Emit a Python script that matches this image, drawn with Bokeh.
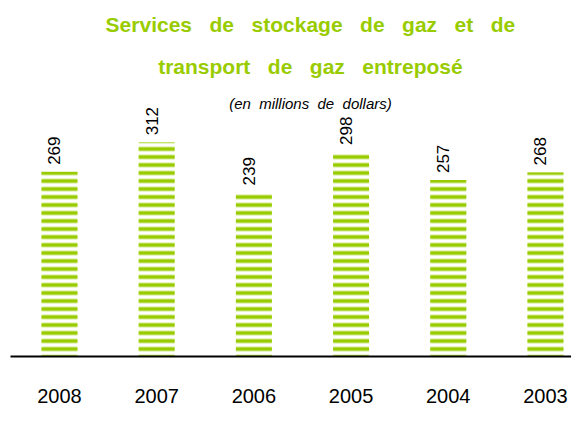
import math
from bokeh.plotting import figure
from bokeh.models import ColumnDataSource, Range1d, LinearAxis, FixedTicker, Label
from bokeh.core.properties import value
from bokeh.embed import file_html
from bokeh.resources import INLINE

# ---- data ----
years = ["2008", "2007", "2006", "2005", "2004", "2003"]
amounts = [269, 312, 239, 298, 257, 268]
title_line1 = "Services de stockage de gaz et de"
title_line2 = "transport de gaz entreposé"
subtitle = "(en millions de dollars)"

GREEN = "#99cc00"
LIGHT = "#cfe88a"
FONT = "Liberation Sans"

idx = list(range(len(years)))
src = ColumnDataSource(dict(x=idx, top=amounts, label=[str(v) for v in amounts]))

p = figure(width=571, height=405, output_backend="svg", toolbar_location=None,
           x_axis_type=None, y_axis_type=None,
           x_range=Range1d(-0.504, 5.268), y_range=Range1d(0, 518.6),
           min_border_left=10, min_border_right=0, min_border_top=0, min_border_bottom=49)
p.outline_line_color = None
p.xgrid.visible = False
p.ygrid.visible = False
p.background_fill_color = "white"
p.border_fill_color = "white"

# striped bars: light under-stripe then dark stripe
p.vbar(x="x", top="top", bottom=0, width=0.37, source=src, fill_color=None, line_color=None,
       hatch_pattern="horizontal_line", hatch_color=LIGHT, hatch_weight=5, hatch_scale=8)
p.vbar(x="x", top="top", bottom=0, width=0.37, source=src, fill_color=None, line_color=None,
       hatch_pattern="horizontal_line", hatch_color=GREEN, hatch_weight=3, hatch_scale=8)

p.text(x="x", y="top", text="label", source=src, angle=math.pi / 2,
       text_align="left", text_baseline="middle", x_offset=-5, y_offset=-7,
       text_font=value(FONT), text_font_size="17px", text_color="black")

ax = LinearAxis(ticker=FixedTicker(ticks=idx),
                major_label_overrides={i: y for i, y in zip(idx, years)})
ax.axis_line_color = "black"
ax.axis_line_width = 2
ax.major_tick_line_color = None
ax.minor_tick_line_color = None
ax.major_label_standoff = 26
ax.major_label_text_font = FONT
ax.major_label_text_font_size = "20px"
ax.major_label_text_color = "black"
p.add_layout(ax, "below")

def spaced(s, n):
    return ("\u00a0" * n).join(s.split(" "))

cx = 2.582
p.add_layout(Label(x=cx, y=483.6, text=spaced(title_line1, 3), text_align="center",
                   text_baseline="alphabetic", text_font=FONT, text_font_size="21px",
                   text_font_style="bold", text_color=GREEN))
p.add_layout(Label(x=cx, y=422.4, text=spaced(title_line2, 3), text_align="center",
                   text_baseline="alphabetic", text_font=FONT, text_font_size="21px",
                   text_font_style="bold", text_color=GREEN))
p.add_layout(Label(x=cx, y=368.5, text=spaced(subtitle, 2), text_align="center",
                   text_baseline="alphabetic", text_font=FONT, text_font_size="15px",
                   text_font_style="italic", text_color="black"))

open("out.html", "w").write(file_html(p, INLINE))
